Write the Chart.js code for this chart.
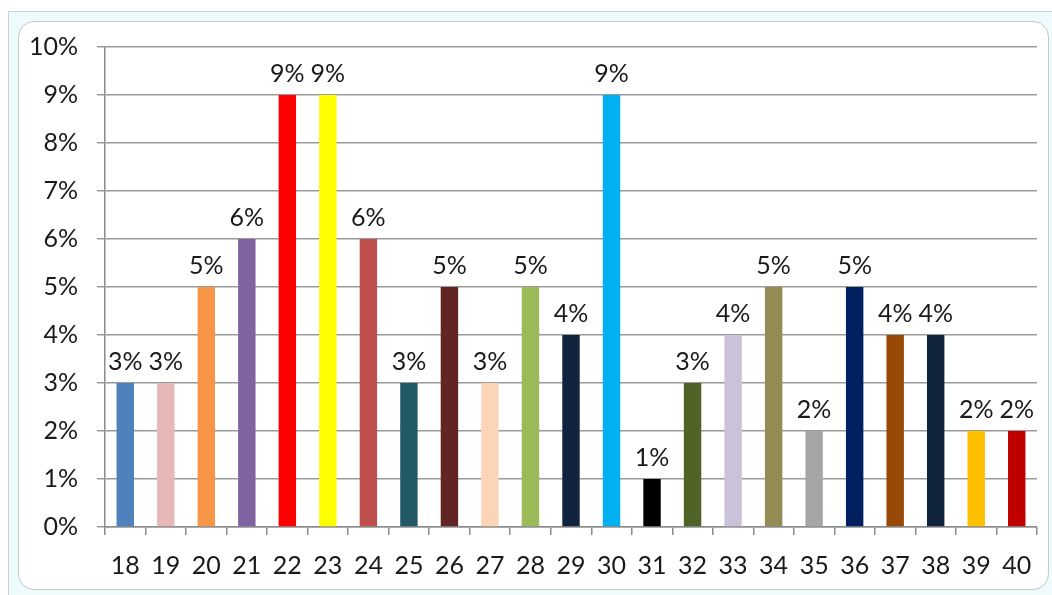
<!DOCTYPE html>
<html>
<head>
<meta charset="utf-8">
<script src="https://cdn.jsdelivr.net/npm/chart.js@4"></script>
<style>
  html, body { margin: 0; padding: 0; background: #fff; width: 1052px; height: 595px; overflow: hidden; }
  #frame {
    position: absolute; left: 8px; top: 11px; width: 1060px; height: 600px;
    background: #eefbfc; border: 1px solid #c4d4d8; box-sizing: border-box;
  }
  #inner {
    position: absolute; left: 18px; top: 21px; width: 1031px; height: 569px;
    background: #fff; border: 1px solid #c8c8c8; border-radius: 16px; box-sizing: border-box;
  }
  #wrap { position: absolute; left: 0; top: 0; width: 1052px; height: 595px; }
</style>
</head>
<body>
<div id="frame"></div>
<div id="inner"></div>
<div id="wrap"><canvas id="chart"></canvas></div>
<script>
// categories (age) and share values in percent
const categories = ['18','19','20','21','22','23','24','25','26','27','28','29','30','31','32','33','34','35','36','37','38','39','40'];
const percentValues = [3, 3, 5, 6, 9, 9, 6, 3, 5, 3, 5, 4, 9, 1, 3, 4, 5, 2, 5, 4, 4, 2, 2];
const yTicks = [0, 1, 2, 3, 4, 5, 6, 7, 8, 9, 10];

const barColors = [
    '#4F81BD', '#E6B9B8', '#F79646', '#8064A2', '#FF0000', '#FFFF00', '#C0504D', '#215967',
    '#632523', '#FBD5B5', '#9BBB59', '#10243E', '#00B0F0', '#000000', '#4F6228', '#CCC1DA',
    '#948A54', '#A6A6A6', '#002060', '#984807', '#10243E', '#FFC000', '#C00000'
];

const FONT = 'Lato, Liberation Sans, sans-serif';
const FONT_SIZE = 25;

// Draws the value labels above each bar
const valueLabels = {
    id: 'valueLabels',
    afterDatasetsDraw(chart) {
        const ctx = chart.ctx;
        const meta = chart.getDatasetMeta(0);
        ctx.save();
        ctx.font = FONT_SIZE + 'px ' + FONT;
        ctx.fillStyle = '#1a1a1a';
        ctx.textAlign = 'center';
        ctx.textBaseline = 'alphabetic';
        meta.data.forEach((bar, i) => {
            ctx.fillText(percentValues[i] + '%', bar.x, bar.y - 13);
        });
        ctx.restore();
    }
};

new Chart(document.getElementById('chart').getContext('2d'), {
    type: 'bar',
    data: {
        labels: categories,
        datasets: [{
            data: percentValues,
            backgroundColor: barColors,
            borderWidth: 0,
            categoryPercentage: 1,
            barPercentage: 0.43
        }]
    },
    options: {
        responsive: true,
        maintainAspectRatio: false,
        animation: false,
        devicePixelRatio: 1,
        layout: { padding: { left: 0, top: 47, right: 15, bottom: 0 } },
        plugins: {
            legend: { display: false },
            tooltip: { enabled: false }
        },
        scales: {
            x: {
                offset: true,
                grid: {
                    offset: true,
                    drawOnChartArea: false,
                    drawTicks: true,
                    tickLength: 8,
                    color: '#8c8c8c',
                    lineWidth: 1.5
                },
                border: { color: '#8c8c8c', width: 1.5 },
                ticks: {
                    color: '#1a1a1a',
                    font: { family: FONT, size: FONT_SIZE },
                    padding: 16,
                    maxRotation: 0,
                    autoSkip: false
                },
                afterFit(scale) { scale.height = 68; }
            },
            y: {
                min: 0,
                max: 10,
                afterBuildTicks(scale) { scale.ticks = yTicks.map(v => ({ value: v })); },
                grid: {
                    color: '#9a9a9a',
                    lineWidth: 1.5,
                    tickLength: 8
                },
                border: { color: '#8c8c8c', width: 1.5 },
                ticks: {
                    color: '#1a1a1a',
                    font: { family: FONT, size: FONT_SIZE },
                    padding: 19,
                    callback: v => v + '%'
                },
                afterFit(scale) { scale.width = 105; }
            }
        }
    },
    plugins: [valueLabels]
});
</script>
</body>
</html>
